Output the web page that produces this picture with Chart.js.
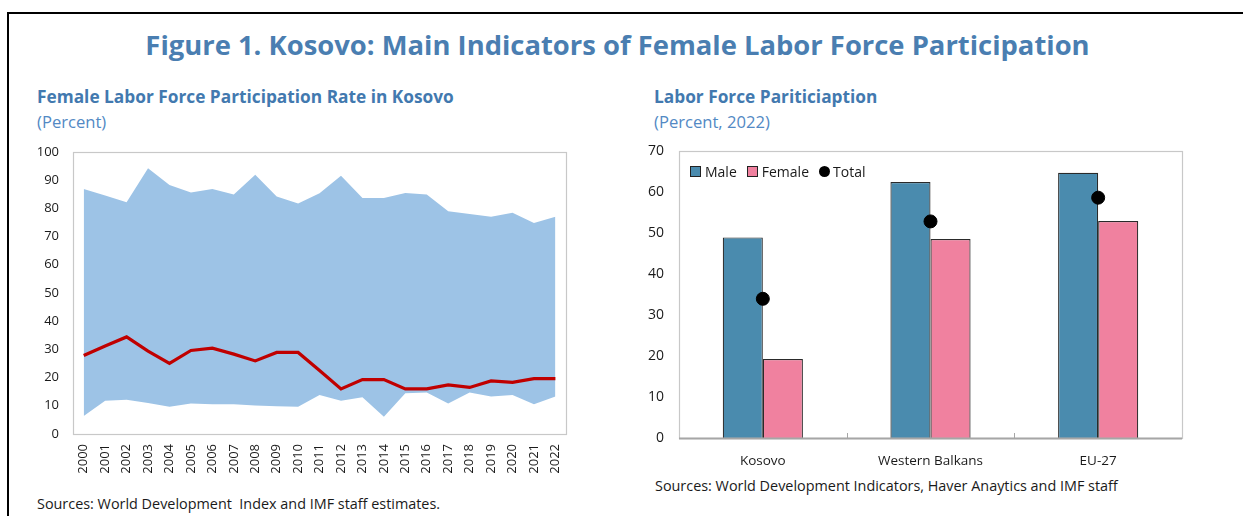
<!DOCTYPE html>
<html>
<head>
<meta charset="utf-8">
<script src="https://cdn.jsdelivr.net/npm/chart.js@4"></script>
<style>
  html, body { margin:0; padding:0; background:#fff; }
  body { width:1243px; height:516px; position:relative; overflow:hidden; font-family:"Open Sans","Noto Sans",sans-serif; }
  .frame { position:absolute; left:7px; top:12px; width:1300px; height:600px; border-top:2px solid #000; border-left:2px solid #000; }
  .t { position:absolute; white-space:nowrap; }
  #title { left:0; width:1235px; text-align:center; top:26px; font-size:27.4px; font-weight:700; color:#4A7EB1; }
  .sub { font-size:17.3px; font-weight:700; color:#4279AF; }
  .par { font-size:16.6px; color:#5289C4; }
  .src { font-size:14.4px; color:#1a1a1a; }
  .box { position:absolute; }
  #legend { position:absolute; left:690px; top:162px; display:flex; align-items:center; font-size:14px; color:#1a1a1a; }
  #legend .it { display:flex; align-items:center; margin-right:10px; }
  #legend .sq { width:9px; height:9px; border:1px solid #222; margin-right:4px; }
  #legend .dot { width:11px; height:11px; border-radius:50%; background:#000; margin-right:3px; }
</style>
</head>
<body>
<div class="frame"></div>
<div class="t" id="title">Figure 1. Kosovo: Main Indicators of Female Labor Force Participation</div>
<div class="t sub" style="left:37px;top:85px;">Female Labor Force Participation Rate in Kosovo</div>
<div class="t par" style="left:37px;top:110px;">(Percent)</div>
<div class="t sub" style="left:654px;top:85px;">Labor Force Pariticiaption</div>
<div class="t par" style="left:654px;top:110px;">(Percent, 2022)</div>
<div class="t src" style="left:37px;top:494px;">Sources: World Development&nbsp; Index and IMF staff estimates.</div>
<div class="t src" style="left:655px;top:476px;">Sources: World Development Indicators, Haver Anaytics and IMF staff</div>

<div class="box" style="left:30px;top:130px;width:551px;height:348px;"><canvas id="c1"></canvas></div>
<div class="box" style="left:624px;top:128px;width:566px;height:352px;"><canvas id="c2"></canvas></div>

<div id="legend">
  <div class="it"><div class="sq" style="background:#4A8BAE"></div>Male</div>
  <div class="it"><div class="sq" style="background:#F0819F"></div>Female</div>
  <div class="it"><div class="dot"></div>Total</div>
</div>

<script>
// ---- Left chart data ----
const years = ['2000','2001','2002','2003','2004','2005','2006','2007','2008','2009','2010','2011','2012','2013','2014','2015','2016','2017','2018','2019','2020','2021','2022'];
const rangeUpper = [86.8,84.5,82.1,94.2,88.2,85.6,86.8,84.9,91.9,84.2,81.7,85.3,91.5,83.6,83.6,85.4,84.9,78.9,78.0,77.0,78.4,74.8,77.0];
const rangeLower = [6.4,11.8,12.1,11.0,9.7,10.8,10.5,10.5,10.1,9.8,9.7,13.8,11.8,13.0,6.1,14.4,14.7,10.8,14.7,13.3,13.8,10.5,13.3];
const kosovoFLFP = [27.8,31.2,34.4,29.4,25.0,29.6,30.4,28.3,25.9,28.9,28.9,22.5,16.0,19.3,19.3,16.0,16.0,17.4,16.5,18.8,18.3,19.6,19.6];
const leftTicks = [0,10,20,30,40,50,60,70,80,90,100];

// ---- Right chart data ----
const regions = ['Kosovo','Western Balkans','EU-27'];
const maleLFP = [49.0,62.5,64.8];
const femaleLFP = [19.3,48.6,53.0];
const totalLFP = [34.0,52.9,58.7];
const rightTicks = [0,10,20,30,40,50,60,70];

const FONT = '"Open Sans","Noto Sans",sans-serif';

const boxPlugin = {
  id:'boxPlugin',
  afterDraw(chart, args, opts) {
    const {ctx, chartArea:a} = chart;
    ctx.save();
    ctx.strokeStyle = opts.color || '#C8C8C8';
    ctx.lineWidth = 1.2;
    ctx.strokeRect(Math.round(a.left)+0.5, Math.round(a.top)+0.5, Math.round(a.right - a.left), Math.round(a.bottom - a.top));
    if (opts.bottomColor) {
      ctx.strokeStyle = opts.bottomColor;
      ctx.lineWidth = 2;
      ctx.beginPath();
      ctx.moveTo(a.left, Math.round(a.bottom)+0.5);
      ctx.lineTo(a.right, Math.round(a.bottom)+0.5);
      ctx.stroke();
    }
    if (opts.catTicks) {
      const xs = chart.scales.x;
      ctx.strokeStyle = opts.bottomColor || '#A6A6A6';
      ctx.lineWidth = 1;
      for (let i = 0; i < xs.ticks.length - 1; i++) {
        const px = Math.round((xs.getPixelForTick(i) + xs.getPixelForTick(i+1)) / 2) + 0.5;
        ctx.beginPath();
        ctx.moveTo(px, a.bottom);
        ctx.lineTo(px, a.bottom - 5);
        ctx.stroke();
      }
    }
    ctx.restore();
  }
};

new Chart(document.getElementById('c1'), {
  type:'line',
  data:{
    labels: years,
    datasets:[
      { label:'Female LFP', data:kosovoFLFP, borderColor:'#C00000', borderWidth:3.2, pointRadius:0, fill:false, tension:0 },
      { label:'Upper', data:rangeUpper, borderColor:'rgba(0,0,0,0)', borderWidth:0, backgroundColor:'#9DC3E6', pointRadius:0, fill:'+1', tension:0 },
      { label:'Lower', data:rangeLower, borderColor:'rgba(0,0,0,0)', borderWidth:0, pointRadius:0, fill:false, tension:0 }
    ]
  },
  options:{
    responsive:true, maintainAspectRatio:false, animation:false,
    layout:{ padding:{ top:0, right:0, left:0, bottom:0 } },
    plugins:{ legend:{display:false}, tooltip:{enabled:false}, boxPlugin:{ color:'#C8C8C8' } },
    scales:{
      x:{ offset:true, grid:{display:false, drawTicks:false}, border:{display:false},
          ticks:{ minRotation:90, maxRotation:90, autoSkip:false, padding:10, color:'#1a1a1a', font:{family:FONT, size:13} },
          afterFit(s){ s.height = 44; } },
      y:{ min:0, max:100, grid:{display:false, drawTicks:false}, border:{display:false},
          afterBuildTicks(s){ s.ticks = leftTicks.map(v => ({value:v})); },
          ticks:{ padding:14, color:'#1a1a1a', font:{family:FONT, size:13} },
          afterFit(s){ s.width = 43; } }
    }
  },
  plugins:[boxPlugin]
});

new Chart(document.getElementById('c2'), {
  type:'bar',
  data:{
    labels: regions,
    datasets:[
      { type:'line', label:'Total', data:totalLFP, showLine:false, pointRadius:6.5, pointBackgroundColor:'#000', pointBorderColor:'#000', order:0 },
      { label:'Male', data:maleLFP, backgroundColor:'#4A8BAE', borderColor:'#2a2a2a', borderWidth:1.2, order:1 },
      { label:'Female', data:femaleLFP, backgroundColor:'#F0819F', borderColor:'#2a2a2a', borderWidth:1.2, order:1 }
    ]
  },
  options:{
    responsive:true, maintainAspectRatio:false, animation:false,
    datasets:{ bar:{ categoryPercentage:0.478, barPercentage:1 } },
    layout:{ padding:{ top:0, right:8, left:0, bottom:0 } },
    plugins:{ legend:{display:false}, tooltip:{enabled:false}, boxPlugin:{ color:'#C8C8C8', bottomColor:'#A6A6A6', catTicks:true } },
    scales:{
      x:{ grid:{display:false, drawTicks:false}, border:{display:false},
          ticks:{ padding:15, color:'#1a1a1a', font:{family:FONT, size:13.5} },
          afterFit(s){ s.height = 42; } },
      y:{ min:0, max:70, grid:{display:false, drawTicks:false}, border:{display:false},
          afterBuildTicks(s){ s.ticks = rightTicks.map(v => ({value:v})); },
          ticks:{ padding:15, color:'#1a1a1a', font:{family:FONT, size:14} },
          afterFit(s){ s.width = 55; } }
    }
  },
  plugins:[boxPlugin]
});
</script>
</body>
</html>
